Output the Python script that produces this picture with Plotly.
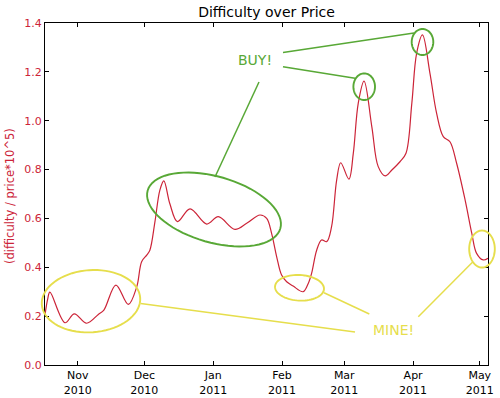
import math
import plotly.graph_objects as go

# ---- data ----
dates = [
    "2010-10-17 07:00", "2010-10-18 12:00", "2010-10-19 12:00", "2010-10-26 07:00",
    "2010-10-30 12:00", "2010-11-05 00:00", "2010-11-10 07:00", "2010-11-12 19:00",
    "2010-11-18 05:00", "2010-11-23 19:00", "2010-11-27 14:00", "2010-11-29 19:00",
    "2010-12-02 02:00", "2010-12-03 12:00", "2010-12-05 19:00", "2010-12-08 00:00",
    "2010-12-09 19:00", "2010-12-12 12:00", "2010-12-15 22:00", "2010-12-21 14:00",
    "2010-12-29 02:00", "2011-01-03 07:00", "2011-01-10 19:00", "2011-01-16 02:00",
    "2011-01-22 02:00", "2011-01-25 02:00", "2011-01-27 07:00", "2011-01-29 14:00",
    "2011-01-31 19:00", "2011-02-03 02:00", "2011-02-06 00:00", "2011-02-10 12:00",
    "2011-02-12 19:00", "2011-02-14 07:00", "2011-02-16 14:00", "2011-02-18 19:00",
    "2011-02-21 02:00", "2011-02-23 07:00", "2011-02-25 14:00", "2011-02-27 10:00",
    "2011-03-03 02:00", "2011-03-05 02:00", "2011-03-07 07:00", "2011-03-09 22:00",
    "2011-03-13 10:00", "2011-03-16 07:00", "2011-03-19 10:00", "2011-03-22 10:00",
    "2011-03-26 02:00", "2011-03-28 19:00", "2011-03-31 10:00", "2011-04-02 14:00",
    "2011-04-05 05:00", "2011-04-08 14:00", "2011-04-11 14:00", "2011-04-14 14:00",
    "2011-04-17 14:00", "2011-04-20 14:00", "2011-04-24 10:00", "2011-04-27 10:00",
    "2011-04-29 14:00", "2011-05-02 14:00", "2011-05-04 17:00",
]
ratio = [
    0.205, 0.27, 0.298, 0.173,
    0.209, 0.171, 0.207, 0.225,
    0.327, 0.248, 0.32, 0.423,
    0.45, 0.47, 0.587, 0.716,
    0.754, 0.66, 0.587, 0.639,
    0.577, 0.607, 0.555, 0.58,
    0.614, 0.60, 0.539, 0.443,
    0.368, 0.341, 0.323, 0.30,
    0.334, 0.375, 0.47, 0.512,
    0.505, 0.566, 0.757, 0.828,
    0.761, 0.867, 1.071, 1.162,
    0.975, 0.812, 0.774, 0.798,
    0.832, 0.867, 1.071, 1.276,
    1.351, 1.194, 1.03, 0.935,
    0.914, 0.826, 0.675, 0.539,
    0.457, 0.43, 0.437,
]
tick_dates = ["2010-11-01", "2010-12-01", "2011-01-01", "2011-02-01",
              "2011-03-01", "2011-04-01", "2011-05-01"]
tick_labels = ["Nov<br>2010", "Dec<br>2010", "Jan<br>2011", "Feb<br>2011",
               "Mar<br>2011", "Apr<br>2011", "May<br>2011"]
y_ticks = [0.0, 0.2, 0.4, 0.6, 0.8, 1.0, 1.2, 1.4]

# ---- style / layout constants ----
W, H = 500, 398
ML, MR, MT, MB = 45, 12, 23, 33
PW, PH = W - ML - MR, H - MT - MB
RED = "#cc2438"
GREEN = "#58a836"
YELLOW = "#e6de4c"
FONT = "DejaVu Sans"


def px(x, y):
    return (x - ML) / PW, (H - MB - y) / PH


def ellipse_path(cx, cy, a, b, theta_deg, n=72):
    th = math.radians(theta_deg)
    pts = []
    for i in range(n + 1):
        t = 2 * math.pi * i / n
        x = cx + a * math.cos(t) * math.cos(th) - b * math.sin(t) * math.sin(th)
        y = cy + a * math.cos(t) * math.sin(th) + b * math.sin(t) * math.cos(th)
        pts.append(px(x, y))
    return "M " + " L ".join(f"{u:.5f},{v:.5f}" for u, v in pts) + " Z"


# decorations (pixel positions in the figure)
ellipses = [
    (214, 209.5, 69, 33, 16, GREEN),
    (364.2, 86.7, 10.8, 13.3, 0, GREEN),
    (422.5, 42, 10.8, 13, 0, GREEN),
    (91, 301.2, 49.3, 31.1, -4, YELLOW),
    (299.5, 287.8, 24.5, 12.8, 3, YELLOW),
    (482, 249, 12.8, 18.5, 0, YELLOW),
]
lines = [
    (215, 177, 259, 82, GREEN),
    (283, 52.5, 414, 33, GREEN),
    (283, 66.7, 355, 78.3, GREEN),
    (140.7, 303.5, 355, 332, YELLOW),
    (324, 292.7, 369.3, 314, YELLOW),
    (472.7, 262, 418.3, 316.7, YELLOW),
]

fig = go.Figure()
fig.add_trace(go.Scatter(
    x=dates, y=ratio, mode="lines",
    line=dict(color=RED, width=1.2, shape="spline", smoothing=1.0),
    hoverinfo="skip", showlegend=False,
))

shapes = []
for cx, cy, a, b, th, col in ellipses:
    shapes.append(dict(type="path", xref="paper", yref="paper",
                       path=ellipse_path(cx, cy, a, b, th),
                       line=dict(color=col, width=1.9)))
for x0, y0, x1, y1, col in lines:
    p0, p1 = px(x0, y0), px(x1, y1)
    shapes.append(dict(type="line", xref="paper", yref="paper",
                       x0=p0[0], y0=p0[1], x1=p1[0], y1=p1[1],
                       line=dict(color=col, width=1.5)))

bx, by = px(254.5, 60)
mx, my = px(393.4, 329.8)
lx, ly = px(10, 196)
annotations = [
    dict(text="BUY!", x=bx, y=by, xref="paper", yref="paper", showarrow=False,
         xanchor="center", yanchor="middle",
         font=dict(family=FONT, size=14, color=GREEN)),
    dict(text="MINE!", x=mx, y=my, xref="paper", yref="paper", showarrow=False,
         xanchor="center", yanchor="middle",
         font=dict(family=FONT, size=14, color=YELLOW)),
    dict(text="(difficulty / price*10^5)", x=lx, y=ly, xref="paper", yref="paper",
         showarrow=False, textangle=-90, xanchor="center", yanchor="middle",
         font=dict(family=FONT, size=11.5, color=RED)),
]

axis_common = dict(showline=True, linecolor="black", linewidth=1, mirror="allticks",
                   ticks="inside", ticklen=4, tickwidth=1, tickcolor="black",
                   showgrid=False, zeroline=False, automargin=False)

fig.update_layout(
    width=W, height=H,
    margin=dict(l=ML, r=MR, t=MT, b=MB, pad=0, autoexpand=False),
    paper_bgcolor="white", plot_bgcolor="white",
    font=dict(family=FONT, size=11, color="black"),
    title=dict(text="Difficulty over Price", x=(266.5) / W, xanchor="center",
               y=1 - 12.5 / H, yanchor="middle", yref="container",
               font=dict(family=FONT, size=14, color="black")),
    xaxis=dict(type="date", range=["2010-10-17 07:00", "2011-05-04 17:00"],
               tickvals=tick_dates, ticktext=tick_labels,
               tickfont=dict(family=FONT, size=11, color="black"), **axis_common),
    yaxis=dict(range=[0, 1.4], tickvals=y_ticks,
               ticktext=[f"{v:.1f}" for v in y_ticks],
               tickfont=dict(family=FONT, size=11, color=RED), **axis_common),
    shapes=shapes, annotations=annotations,
)

fig.write_html("out.html",
               config={"displayModeBar": False, "staticPlot": True},
               post_script="document.body.style.margin='0';"
                           "document.body.style.overflow='hidden';")
